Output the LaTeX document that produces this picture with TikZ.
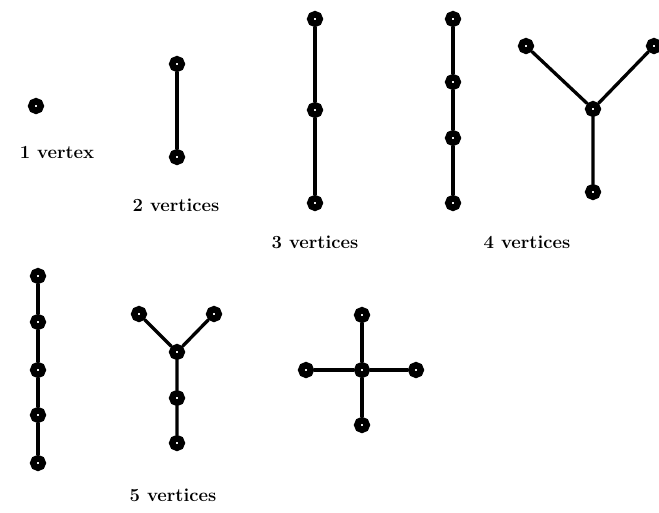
\documentclass[tikz,border=0pt]{standalone}
\begin{document}
\begin{tikzpicture}[x=1pt,y=-1pt,
  vtx/.style={circle,draw=black,line width=6.5pt,inner sep=0pt,minimum size=9.5pt,fill=white},
  edge/.style={line width=3.3pt,black},
  lbl/.style={font=\fontsize{18.5}{22}\selectfont\bfseries,inner sep=0pt}]
\useasboundingbox (0,0) rectangle (659,512);
% 1 vertex
\node[vtx] (a1) at (36,106) {};
\node[lbl] (l1) at (57,152) {1 vertex};
% 2 vertices
\node[vtx] (b1) at (177,64) {};
\node[vtx] (b2) at (177,157) {};
\draw[edge] (b1) -- (b2);
\node[lbl] (l2) at (176,205) {2 vertices};
% 3 vertices
\node[vtx] (c1) at (315,19) {};
\node[vtx] (c2) at (315,110) {};
\node[vtx] (c3) at (315,203) {};
\draw[edge] (c1) -- (c2) -- (c3);
\node[lbl] (l3) at (315,242) {3 vertices};
% 4 vertices path
\node[vtx] (d1) at (453,19) {};
\node[vtx] (d2) at (453,82) {};
\node[vtx] (d3) at (453,138) {};
\node[vtx] (d4) at (453,203) {};
\draw[edge] (d1) -- (d2) -- (d3) -- (d4);
% 4 vertices Y
\node[vtx] (e1) at (526,46) {};
\node[vtx] (e2) at (654,46) {};
\node[vtx] (e3) at (593,109) {};
\node[vtx] (e4) at (593,192) {};
\draw[edge] (e1) -- (e3) -- (e2) (e3) -- (e4);
\node[lbl] (l4) at (527,242) {4 vertices};
% 5 vertices path
\node[vtx] (f1) at (38,276) {};
\node[vtx] (f2) at (38,322) {};
\node[vtx] (f3) at (38,370) {};
\node[vtx] (f4) at (38,415) {};
\node[vtx] (f5) at (38,463) {};
\draw[edge] (f1) -- (f2) -- (f3) -- (f4) -- (f5);
% 5 vertices Y
\node[vtx] (g1) at (139,314) {};
\node[vtx] (g2) at (214,314) {};
\node[vtx] (g3) at (177,352) {};
\node[vtx] (g4) at (177,398) {};
\node[vtx] (g5) at (177,443) {};
\draw[edge] (g1) -- (g3) -- (g2) (g3) -- (g4) -- (g5);
% 5 vertices star
\node[vtx] (h0) at (362,370) {};
\node[vtx] (h1) at (362,315) {};
\node[vtx] (h2) at (306,370) {};
\node[vtx] (h3) at (416,370) {};
\node[vtx] (h4) at (362,425) {};
\draw[edge] (h0) -- (h1) (h0) -- (h2) (h0) -- (h3) (h0) -- (h4);
\node[lbl] (l5) at (173,495) {5 vertices};
\end{tikzpicture}
\end{document}
